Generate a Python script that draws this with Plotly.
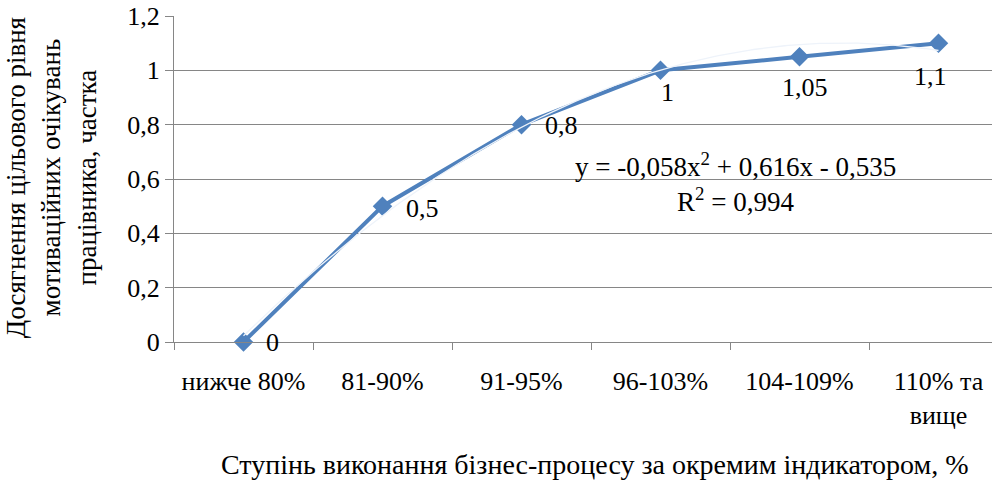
import numpy as np
import plotly.graph_objects as go

categories = ["нижче 80%", "81-90%", "91-95%", "96-103%", "104-109%", "110% та<br>вище"]
values = [0, 0.5, 0.8, 1, 1.05, 1.1]
value_labels = ["0", "0,5", "0,8", "1", "1,05", "1,1"]
trend_coefs = [-0.058, 0.616, -0.535]  # y = -0,058x² + 0,616x - 0,535
y_ticks = [0, 0.2, 0.4, 0.6, 0.8, 1.0, 1.2]
y_ticktext = ["0", "0,2", "0,4", "0,6", "0,8", "1", "1,2"]
x_title = "Ступінь виконання бізнес-процесу за окремим індикатором, %"
y_title = "Досягнення цільового рівня<br>мотиваційних очікувань<br>працівника, частка"

# label placement offsets in pixels (style only)
label_dx = [29, 40, 40, 7, 5, -8]
label_dy = [0, -2, -1, -22, -31, -33]

FONT = "Liberation Serif, Times New Roman, DejaVu Serif, serif"
FS = 26
BLUE = "#4F81BD"

idx = list(range(len(categories)))
tx = np.linspace(0, len(categories) - 1, 200)
ty = np.polyval(trend_coefs, tx + 1)

fig = go.Figure()
fig.add_trace(go.Scatter(
    x=idx, y=values, mode="lines+markers",
    line=dict(color=BLUE, width=4),
    marker=dict(symbol="diamond", size=15, color=BLUE),
    cliponaxis=False, showlegend=False, hoverinfo="skip"))
fig.add_trace(go.Scatter(
    x=tx, y=ty, mode="lines",
    line=dict(color="#eef3fa", width=1.3),
    showlegend=False, hoverinfo="skip"))

for i, v, lab, dx, dy in zip(idx, values, value_labels, label_dx, label_dy):
    fig.add_annotation(x=i, y=v, text=lab, showarrow=False,
                       xanchor="center", yanchor="middle", xshift=dx, yshift=dy,
                       font=dict(family=FONT, size=FS, color="black"))

fig.add_annotation(xref="paper", yref="paper", x=(735 - 174) / 818, y=0.49,
                   text="y = -0,058x<sup>2</sup> + 0,616x - 0,535<br>R<sup>2</sup> = 0,994",
                   showarrow=False, font=dict(family=FONT, size=27, color="black"),
                   align="center", xanchor="center", yanchor="middle")

fig.add_annotation(xref="paper", yref="paper", x=-0.213, y=0.505,
                   xanchor="left", yanchor="middle",
                   text=y_title, textangle=-90, showarrow=False, align="center",
                   font=dict(family=FONT, size=27, color="black"))

fig.add_annotation(xref="paper", yref="paper", x=(595 - 174) / 818, y=-0.377,
                   xanchor="center", yanchor="middle",
                   text=x_title, showarrow=False,
                   font=dict(family=FONT, size=28, color="black"))

fig.update_layout(
    width=992, height=480,
    margin=dict(l=174, r=0, t=16, b=138, autoexpand=False),
    paper_bgcolor="white", plot_bgcolor="white",
    font=dict(family=FONT, size=FS, color="black"),
    xaxis=dict(
        range=[-0.5, -0.5 + 818 / 139], tickvals=idx, ticktext=categories,
        automargin=False,
        showgrid=False, zeroline=False, showline=True, linecolor="#868686", linewidth=1,
        ticks="", tickfont=dict(family=FONT, size=FS), ticklabelstandoff=16,
        minor=dict(tickvals=[i - 0.5 for i in range(len(categories) + 1)],
                   ticks="outside", ticklen=7, tickcolor="#868686", showgrid=False),
    ),
    yaxis=dict(
        range=[0, 1.2], tickvals=y_ticks, ticktext=y_ticktext,
        automargin=False,
        showgrid=True, gridcolor="#868686", gridwidth=1, zeroline=False,
        showline=True, linecolor="#868686", linewidth=1,
        ticks="outside", ticklen=8, tickcolor="#868686",
        tickfont=dict(family=FONT, size=FS),
    ),
)

fig.write_html("out.html", config={"displayModeBar": False},
               post_script="document.body.style.margin='0';document.body.style.overflow='hidden';")
